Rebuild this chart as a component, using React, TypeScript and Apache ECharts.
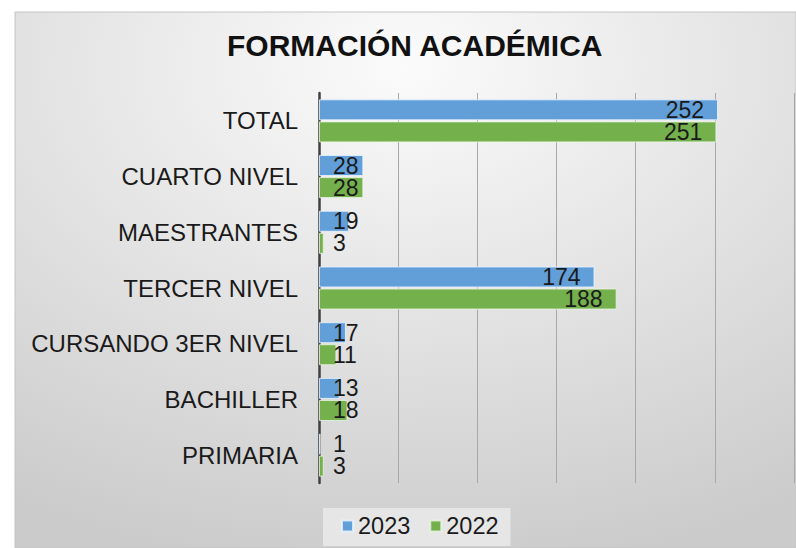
import React, { useEffect, useRef } from "react";
import * as echarts from "echarts";

const categories = [
  "TOTAL",
  "CUARTO NIVEL",
  "MAESTRANTES",
  "TERCER NIVEL",
  "CURSANDO 3ER NIVEL",
  "BACHILLER",
  "PRIMARIA",
];
const values2023 = [252, 28, 19, 174, 17, 13, 1];
const values2022 = [251, 28, 3, 188, 11, 18, 3];
const seriesNames = ["2023", "2022"];
const xTicks = { min: 0, max: 300, interval: 50 };

const FONT = "'Liberation Sans', Arial, sans-serif";

function labelled(values: number[]) {
  return values.map((v) =>
    v > 50
      ? { value: v, label: { position: "insideRight", distance: 14 } }
      : { value: v, label: { position: "insideLeft", distance: 14 } }
  );
}

export default function App() {
  const ref = useRef<HTMLDivElement>(null);
  useEffect(() => {
    if (!ref.current) return;
    const chart = echarts.init(ref.current, undefined, { renderer: "svg" });
    const labelStyle = {
      show: true,
      color: "#1a1a1a",
      fontSize: 23,
      lineHeight: 20,
      fontFamily: FONT,
    };
    chart.setOption({
      animation: false,
      graphic: [
        {
          type: "rect",
          shape: { x: 15, y: 12, width: 781, height: 536 },
          z: -10,
          silent: true,
          style: {
            fill: new echarts.graphic.RadialGradient(0.5, 0.1, 0.95, [
              { offset: 0, color: "#fbfbfb" },
              { offset: 1, color: "#cbcbcb" },
            ]),
            stroke: "#c4c4c4",
            lineWidth: 1,
          },
        },
      ],
      title: {
        text: "FORMACIÓN ACADÉMICA",
        left: 227,
        top: 30,
        padding: 0,
        textStyle: {
          fontSize: 30,
          fontWeight: "bold",
          color: "#111111",
          fontFamily: FONT,
        },
      },
      legend: {
        data: seriesNames,
        left: 323,
        top: 508,
        padding: [6, 12, 8, 18],
        backgroundColor: "#e6e6e6",
        itemWidth: 11,
        itemHeight: 11,
        itemGap: 19,
        icon: "rect",
        textStyle: { fontSize: 23.5, color: "#1a1a1a", fontFamily: FONT },
      },
      grid: { left: 319, right: 2, top: 93, bottom: 65, containLabel: false },
      xAxis: {
        type: "value",
        min: xTicks.min,
        max: xTicks.max,
        interval: xTicks.interval,
        axisLabel: { show: false },
        axisLine: { show: false },
        axisTick: { show: false },
        splitLine: { show: true, lineStyle: { color: "#a8a8a8", width: 1 } },
      },
      yAxis: {
        type: "category",
        data: categories,
        inverse: true,
        axisTick: { show: false },
        axisLine: { show: true, lineStyle: { color: "#404040", width: 2.5 } },
        axisLabel: {
          fontSize: 24,
          color: "#1a1a1a",
          fontFamily: FONT,
          margin: 21,
        },
      },
      series: [
        {
          name: seriesNames[0],
          type: "bar",
          data: labelled(values2023),
          barWidth: 21,
          barGap: "5%",
          itemStyle: {
            color: "#629fd9",
            borderColor: "rgba(235,245,255,0.8)",
            borderWidth: 1,
          },
          label: labelStyle,
        },
        {
          name: seriesNames[1],
          type: "bar",
          data: labelled(values2022),
          barWidth: 21,
          barGap: "5%",
          itemStyle: {
            color: "#74b04c",
            borderColor: "rgba(235,245,230,0.8)",
            borderWidth: 1,
          },
          label: labelStyle,
        },
      ],
    });
    return () => chart.dispose();
  }, []);
  return (
    <div
      ref={ref}
      style={{ position: "absolute", left: 0, top: 0, width: 796, height: 548 }}
    />
  );
}
